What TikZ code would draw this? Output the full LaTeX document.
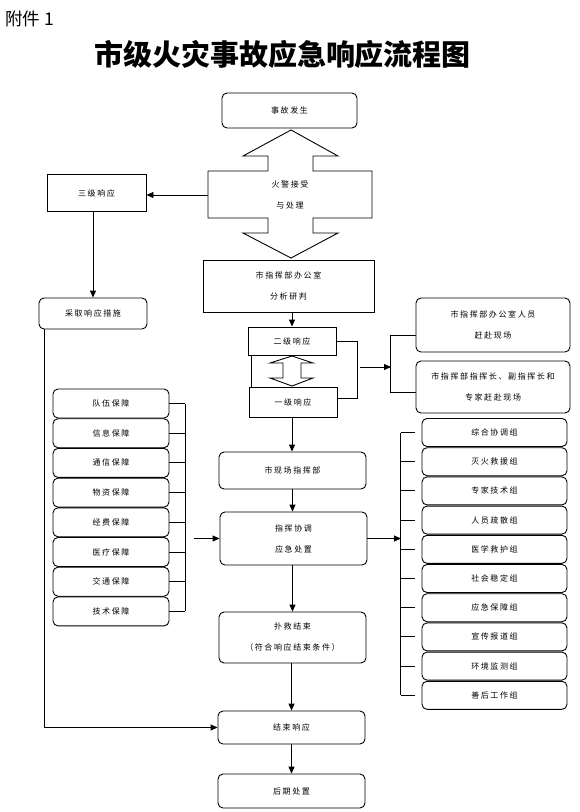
\documentclass[tikz,border=0pt]{standalone}
\usepackage{fontspec}
\setmainfont{Noto Sans CJK SC}
\newfontfamily\boxfont[LetterSpace=20]{Noto Sans CJK SC}
\usepackage{tikz}
\usetikzlibrary{arrows.meta}

\tikzset{
  box/.style={draw, line width=0.9pt, inner sep=0pt, align=center,
    font=\boxfont\fontsize{8}{21}\selectfont},
  rbox/.style={box, rounded corners=5pt},
  line/.style={line width=0.9pt},
  arr/.style={line, -{Triangle[length=7pt,width=6pt]}}
}

\begin{document}
\begin{tikzpicture}[x=1pt,y=-1pt]
    \useasboundingbox (0,0) rectangle (579,812);
    \node[anchor=west, inner sep=0pt, font=\fontsize{17.5}{17.5}\selectfont] (annex) at (5,18.5) {附件 1};
    \node[font=\bfseries\fontsize{29}{29}\selectfont] (title) at (282.5,54) {市级火灾事故应急响应流程图};

    \node[rbox, minimum width=135, minimum height=35] (accident) at (289.5,110.5) {事故发生};
    % double arrow round the alarm box
    \draw[line] (291,130) -- (338,156) -- (313,156) -- (313,171) -- (372,171) -- (372,218)
      -- (313,218) -- (313,233) -- (338,233) -- (291,258) -- (243,233) -- (268,233)
      -- (268,218) -- (208,218) -- (208,171) -- (268,171) -- (268,156) -- (243,156) -- cycle;
    \node[box, draw=none, minimum width=164, minimum height=47] (alarm) at (290,195) {火警接受\\与处理};

    \node[box, minimum width=99, minimum height=37] (third) at (96.5,193) {三级响应};
    \node[rbox, minimum width=108, minimum height=31] (measures) at (93,313.5) {采取响应措施};
    \draw[arr] (alarm.west) -- (alarm.west -| third.east);
    \draw[arr] (third.south -| measures) -- (measures.north);

    \node[box, minimum width=171, minimum height=52] (analysis) at (288.5,286) {市指挥部办公室\\分析研判};
    \node[box, minimum width=88, minimum height=28] (second) at (292,341) {二级响应};
    \node[box, minimum width=88, minimum height=30] (first) at (293,402) {一级响应};
    \draw[arr] (analysis.south -| second) -- (second.north);
    \draw[line] ([xshift=4pt]second.south west) -- ([xshift=3pt]first.north west);
    \draw[line] (292,356) -- (313,363) -- (301,363) -- (301,378) -- (313,378) -- (292,386)
      -- (270,378) -- (283,378) -- (283,363) -- (270,363) -- cycle;
    \draw[line] (second.east) -- ++(21,0) |- ([yshift=4pt]first.east);

    \node[rbox, minimum width=154, minimum height=54] (staff) at (493,325) {市指挥部办公室人员\\赶赴现场};
    \node[rbox, minimum width=154, minimum height=52] (chiefs) at (493,387) {市指挥部指挥长、副指挥长和\\专家赶赴现场};
    \coordinate (lvout) at (360,367);
    \coordinate (fork) at (391,367);
    \draw[arr] (lvout) -- (fork);
    \draw[line] ([yshift=-10pt]staff.west) -- ++(-25,0) |- ([yshift=-5pt]chiefs.west);

    \node[rbox, minimum width=147, minimum height=37] (onsite) at (292.5,470.5) {市现场指挥部};
    \node[rbox, minimum width=147, minimum height=53] (command) at (293.5,538.5) {指挥协调\\应急处置};
    \node[rbox, minimum width=147, minimum height=51] (rescue) at (292.5,637.5) {扑救结束\\（符合响应结束条件）};
    \node[rbox, minimum width=147, minimum height=33] (close) at (291.5,727.5) {结束响应};
    \node[rbox, minimum width=147, minimum height=34] (after) at (291.5,791) {后期处置};
    \draw[arr] (first.south -| 292,0) -- (onsite.north -| 292,0);
    \draw[arr] (onsite.south) -- (onsite.south |- command.north);
    \draw[arr] (command.south -| rescue) -- (rescue.north);
    \draw[arr] (rescue.south -| close) -- (close.north);
    \draw[arr] (close.south) -- (after.north);
    \draw[arr] ([xshift=6pt]measures.south west) |- (close.west);

    % support
    \foreach \t [count=\i] in {队伍保障,信息保障,通信保障,物资保障,经费保障,医疗保障,交通保障,技术保障}{
      \node[rbox, minimum width=116, minimum height=29] (s\i) at (111,{403.5+(\i-1)*29.7}) {\t};
      \draw[line] (s\i.east) -- ++(16,0);
    }
    \draw[line] ([xshift=16pt]s1.east) -- ([xshift=16pt]s8.east);
    \coordinate (supin) at (194,538.5);
    \draw[arr] (supin) -- (command.west);

    % groups
    \foreach \t [count=\i] in {综合协调组,灭火救援组,专家技术组,人员疏散组,医学救护组,社会稳定组,应急保障组,宣传报道组,环境监测组,善后工作组}{
      \node[rbox, minimum width=145, minimum height=28] (g\i) at (494.5,{432.5+(\i-1)*29.2}) {\t};
      \draw[line] ([xshift=-7pt]g\i.west) -- ([xshift=-21pt]g\i.west);
    }
    \draw[line] ([xshift=-21pt]g1.west) -- ([xshift=-21pt]g10.west);
    \coordinate (grpin) at (401,538.5);
    \draw[arr] (command.east) -- (grpin);
\end{tikzpicture}
\end{document}
